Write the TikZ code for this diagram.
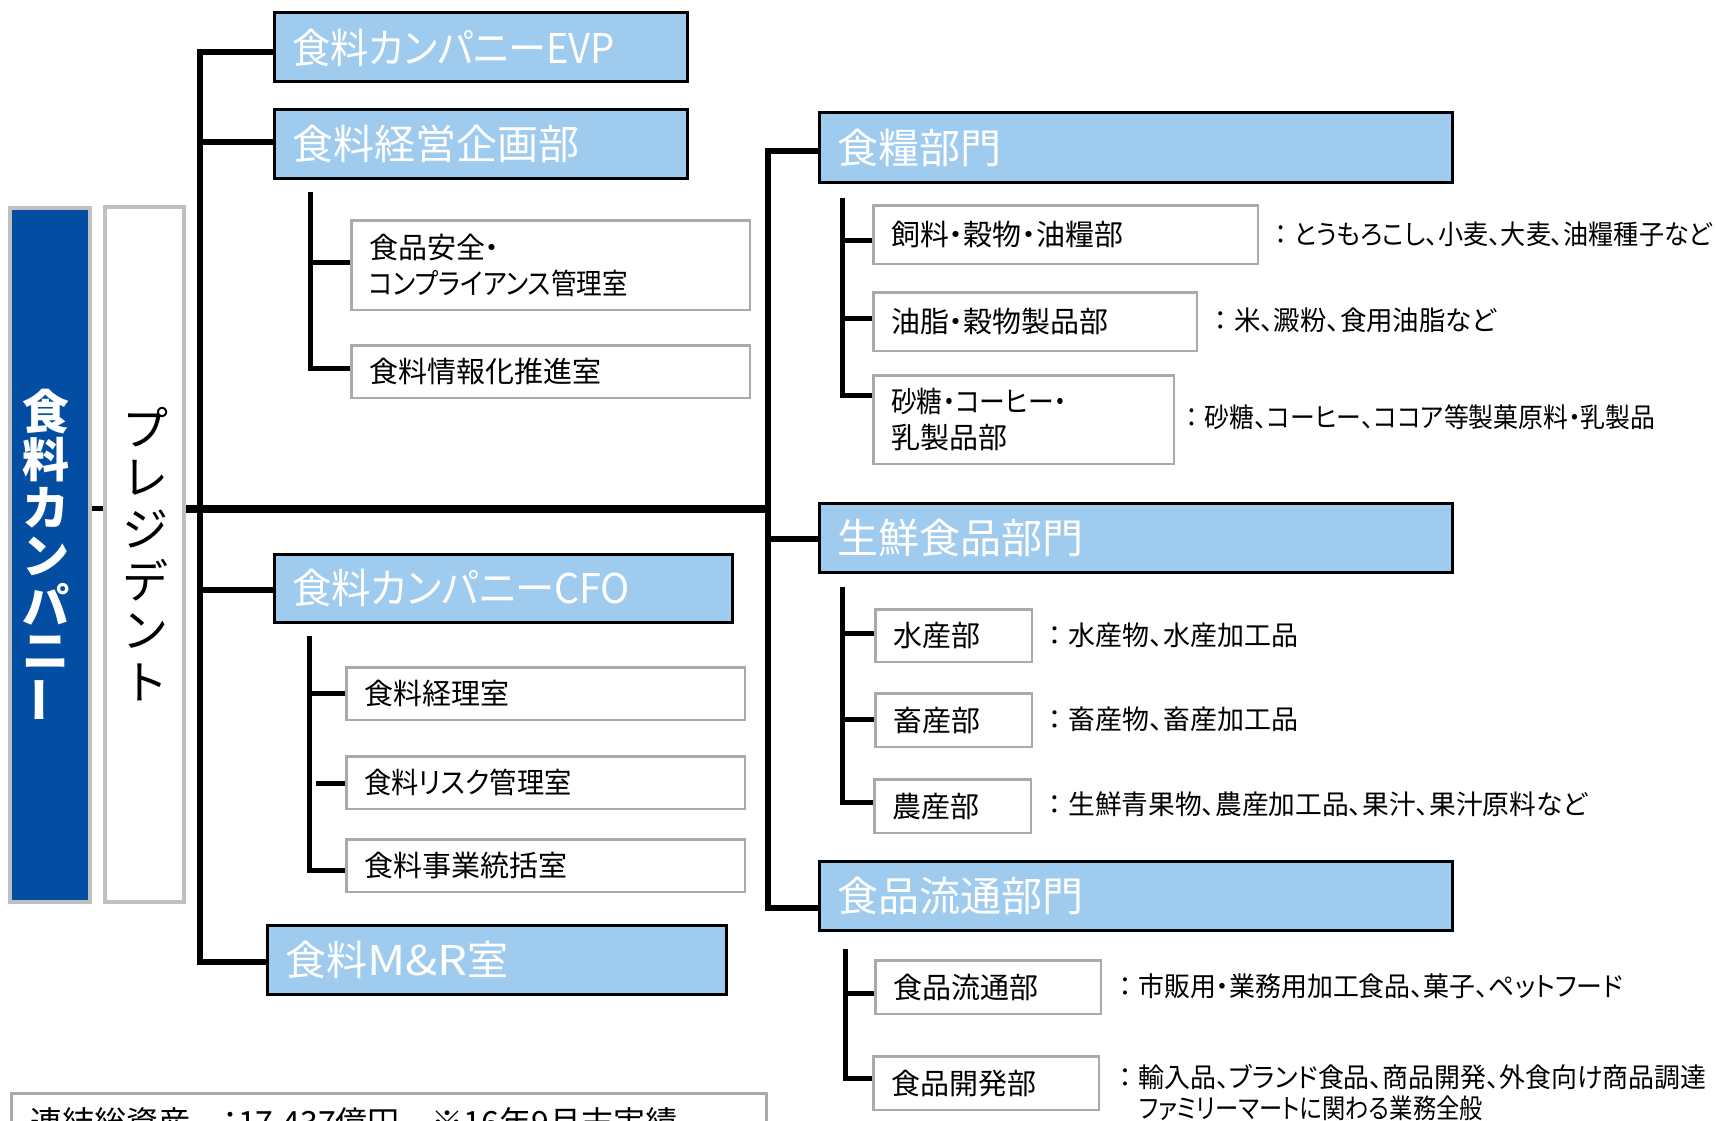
\documentclass[tikz,border=0pt]{standalone}
\usepackage{fontspec}
\usepackage{graphicx}
\usetikzlibrary{backgrounds}
\setmainfont{Noto Sans CJK JP}[RawFeature={+palt}]
\newfontfamily\jpfull{Noto Sans CJK JP}
\newcommand\narrow[2]{\scalebox{#1}[1]{#2}}
\definecolor{hdrblue}{RGB}{158,203,238}
\definecolor{navyblue}{RGB}{3,78,162}
\definecolor{edgegray}{RGB}{192,192,192}
\definecolor{subgray}{RGB}{170,170,170}
\begin{document}
\begin{tikzpicture}[x=1pt,y=-1pt,
  hdr/.style={draw=black, line width=3pt, fill=hdrblue, text=white, anchor=north west, inner xsep=18pt, inner ysep=0pt, align=left, font=\fontsize{41}{48}\selectfont},
  subbox/.style={draw=subgray, line width=2.5pt, fill=white, text=black, anchor=north west, inner xsep=17.5pt, inner ysep=0pt, align=left, font=\fontsize{29}{35.5}\selectfont},
  desc/.style={anchor=west, inner sep=0pt, text=black, font=\fontsize{27}{31}\selectfont},
  conn/.style={line width=6pt, line join=miter, black},
  subconn/.style={line width=5pt, line join=miter, black},
  tallbox/.style={draw=edgegray, line width=4pt, inner sep=0pt},
  vblue/.style={inner sep=0pt, anchor=center, text=white, font=\jpfull\bfseries\fontsize{47}{47}\selectfont},
  vpres/.style={inner sep=0pt, anchor=center, text=black, font=\jpfull\fontsize{46}{46}\selectfont},
]
\useasboundingbox (0,0) rectangle (1718,1121);

% tall boxes
\node[tallbox, fill=navyblue, minimum width=80pt, minimum height=694pt] (company) at (50,555) {};
\node[tallbox, fill=white, minimum width=79pt, minimum height=695pt] (president) at (144.5,554.5) {};
\foreach \ch [count=\i] in {食,料,カ,ン,パ,ニ}
  \node[vblue] (co\i) at (46,{412+(\i-1)*48}) {\ch};
\node[vblue] (co7) at (46,700) {\rotatebox[origin=c]{90}{ー}};
\foreach \ch [count=\i] in {プ,レ,ジ,デ,ン,ト}
  \node[vpres] (pr\i) at (145,{427+(\i-1)*51}) {\ch};

% header boxes
\node[hdr, minimum width=413pt, minimum height=69pt, text width=377pt] (evp) at (272.5,11.5) {\narrow{0.93}{食料カンパニーEVP}};
\node[hdr, minimum width=413pt, minimum height=68pt, text width=377pt] (plan) at (272.5,108.5) {食料経営企画部};
\node[hdr, minimum width=458pt, minimum height=68pt, text width=422pt] (cfo) at (272.5,552.5) {\narrow{0.96}{食料カンパニーCFO}};
\node[hdr, minimum width=459pt, minimum height=69pt, text width=423pt] (mr) at (265.5,923.5) {食料\narrow{1.15}{M\&R}室};
\node[hdr, minimum width=633pt, minimum height=69pt, text width=597pt] (food) at (817.5,111.5) {食糧部門};
\node[hdr, minimum width=633pt, minimum height=69pt, text width=597pt] (fresh) at (817.5,501.5) {生鮮食品部門};
\node[hdr, minimum width=633pt, minimum height=69pt, text width=597pt] (dist) at (817.5,859.5) {食品流通部門};

% sub boxes
\node[subbox, minimum width=398.5pt, minimum height=89.5pt, text width=363.5pt] (safe) at (350.25,219.25) {食品安全・\\\narrow{0.88}{コンプライアンス管理室}};
\node[subbox, minimum width=398.5pt, minimum height=52.5pt, text width=363.5pt] (info) at (350.25,344.25) {食料情報化推進室};
\node[subbox, minimum width=398.5pt, minimum height=52.5pt, text width=363.5pt] (acct) at (345.25,666.25) {食料経理室};
\node[subbox, minimum width=398.5pt, minimum height=52.5pt, text width=363.5pt] (risk) at (345.25,755.25) {\narrow{0.94}{食料リスク管理室}};
\node[subbox, minimum width=398.5pt, minimum height=52.5pt, text width=363.5pt] (biz) at (345.25,838.25) {食料事業統括室};
\node[subbox, minimum width=384.5pt, minimum height=58.5pt, text width=349.5pt] (feed) at (872.25,204.25) {飼料・穀物・油糧部};
\node[subbox, minimum width=323.5pt, minimum height=58.5pt, text width=288.5pt] (oil) at (872.25,291.25) {油脂・穀物製品部};
\node[subbox, minimum width=300.5pt, minimum height=88.5pt, text width=265.5pt] (sugar) at (872.25,374.25) {\narrow{0.89}{砂糖・コーヒー・}\\乳製品部};
\node[subbox, minimum width=156.5pt, minimum height=52.5pt, text width=121.5pt] (fish) at (874.25,608.25) {水産部};
\node[subbox, minimum width=156.5pt, minimum height=53.5pt, text width=121.5pt] (live) at (874.25,692.25) {畜産部};
\node[subbox, minimum width=156.5pt, minimum height=53.5pt, text width=121.5pt] (agri) at (873.25,778.25) {農産部};
\node[subbox, minimum width=225.5pt, minimum height=53.5pt, text width=190.5pt] (fd) at (874.25,959.25) {食品流通部};
\node[subbox, minimum width=225.5pt, minimum height=53.5pt, text width=190.5pt] (dev) at (872.25,1055.25) {食品開発部};

% summary box (cut by the page edge, as in the reference)
\node[draw=subgray, line width=2.5pt, fill=white, anchor=north west, minimum width=755pt, minimum height=120pt, inner sep=0pt] (summary) at (10.25,1092.25) {};
\node[anchor=base west, inner sep=0pt, font=\fontsize{32}{38}\selectfont] (summarytext) at (30,1134.5) {連結総資産　：17,437億円　※16年9月末実績};

% descriptions
\node[desc] (d1) at (1268.5,234) {\narrow{0.93}{{\jpfull ：}とうもろこし、小麦、大麦、油糧種子など}};
\node[desc] (d2) at (1207.5,320) {\narrow{0.98}{{\jpfull ：}米、澱粉、食用油脂など}};
\node[desc] (d3) at (1179.5,417) {\narrow{0.92}{{\jpfull ：}砂糖、コーヒー、ココア等製菓原料・乳製品}};
\node[desc] (d4) at (1041.5,635) {{\jpfull ：}水産物、水産加工品};
\node[desc] (d5) at (1041.5,719) {{\jpfull ：}畜産物、畜産加工品};
\node[desc] (d6) at (1041.5,804) {\narrow{0.99}{{\jpfull ：}生鮮青果物、農産加工品、果汁、果汁原料など}};
\node[desc] (d7) at (1112.5,986) {\narrow{0.96}{{\jpfull ：}市販用・業務用加工食品、菓子、ペットフード}};
\node[desc] (d8) at (1112.5,1077) {\narrow{0.96}{{\jpfull ：}輸入品、ブランド食品、商品開発、外食向け商品調達}};
\node[desc] (d8b) at (1139,1108) {\narrow{0.86}{ファミリーマートに関わる業務全般}};

% connectors
\begin{scope}[on background layer]
  \draw[line width=5pt] (company.east |- 0,508.5) -- (president.west |- 0,508.5);
  \coordinate (lt1) at (200,52);
  \coordinate (lt2) at (200,962);
  \coordinate (rt1) at (768,151);
  \coordinate (rt2) at (768,908);
  \draw[line width=8pt] (president.east |- 0,509) -- (rt1 |- 0,509);
  \draw[conn] (evp.west |- lt1) -- (lt1) -- (lt2) -- (mr.west |- lt2);
  \draw[conn] (lt1 |- 0,142) -- (plan.west |- 0,142);
  \draw[conn] (lt1 |- 0,590) -- (cfo.west |- 0,590);
  \draw[conn] (food.west |- rt1) -- (rt1) -- (rt2) -- (dist.west |- rt2);
  \draw[conn] (rt1 |- 0,539) -- (fresh.west |- 0,539);
  % sub trunk 1
  \coordinate (s1a) at (310,192);
  \coordinate (s1b) at (310,368);
  \draw[subconn] (s1a) -- (s1b) -- (info.west |- s1b);
  \draw[subconn] (s1a |- 0,262) -- (safe.west |- 0,262);
  % sub trunk 2
  \coordinate (s2a) at (309,636);
  \coordinate (s2b) at (309,870);
  \draw[subconn] (s2a) -- (s2b) -- (biz.west |- s2b);
  \draw[subconn] (s2a |- 0,693) -- (acct.west |- 0,693);
  \draw[subconn, shorten <=7pt] (s2a |- 0,783) -- (risk.west |- 0,783);
  % sub trunk 3
  \coordinate (s3a) at (842,198);
  \coordinate (s3b) at (842,395);
  \draw[subconn] (s3a) -- (s3b) -- (sugar.west |- s3b);
  \draw[subconn] (s3a |- 0,240) -- (feed.west |- 0,240);
  \draw[subconn] (s3a |- 0,318) -- (oil.west |- 0,318);
  % sub trunk 4
  \coordinate (s4a) at (842,587);
  \coordinate (s4b) at (842,802);
  \draw[subconn] (s4a) -- (s4b) -- (agri.west |- s4b);
  \draw[subconn] (s4a |- 0,633) -- (fish.west |- 0,633);
  \draw[subconn] (s4a |- 0,719) -- (live.west |- 0,719);
  % sub trunk 5
  \coordinate (s5a) at (845,949);
  \coordinate (s5b) at (845,1078);
  \draw[subconn] (s5a) -- (s5b) -- (dev.west |- s5b);
  \draw[subconn] (s5a |- 0,993) -- (fd.west |- 0,993);
\end{scope}
\end{tikzpicture}
\end{document}
